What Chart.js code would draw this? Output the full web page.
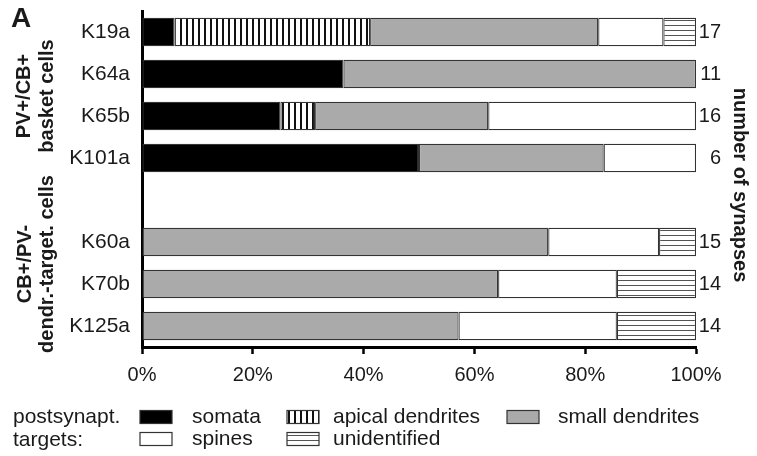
<!DOCTYPE html>
<html>
<head>
<meta charset="utf-8">
<script src="https://cdn.jsdelivr.net/npm/chart.js@4"></script>
<style>
  body { margin: 0; background: #fff; }
  #wrap { width: 757px; height: 456px; position: relative; }
</style>
</head>
<body>
<div id="wrap"><canvas id="chart"></canvas></div>
<script>
// cells (empty entry = gap between the two groups)
const cells = ['K19a', 'K64a', 'K65b', 'K101a', '', 'K60a', 'K70b', 'K125a'];
const totals = [17, 11, 16, 6, null, 15, 14, 14];

// synapse counts per target type
const somata       = [1, 4, 4, 3, null, 0, 0, 0];
const apical       = [6, 0, 1, 0, null, 0, 0, 0];
const smallDend    = [7, 7, 5, 2, null, 11, 9, 8];
const spines       = [2, 0, 6, 1, null, 3, 3, 4];
const unidentified = [1, 0, 0, 0, null, 1, 2, 2];

const xTicks = [0, 20, 40, 60, 80, 100];

const FONT = "'Liberation Sans', Arial, sans-serif";
const GRAY = 'rgb(170, 170, 170)';
const EDGE = '#333';
const INK = '#1a1a1a';

function stripes(vertical, period, lineW, color) {
  const c = document.createElement('canvas');
  c.width = period; c.height = period;
  const g = c.getContext('2d');
  g.fillStyle = '#fff';
  g.fillRect(0, 0, period, period);
  g.fillStyle = color;
  if (vertical) g.fillRect(0, 0, lineW, period);
  else g.fillRect(0, 0, period, lineW);
  return g.createPattern(c, 'repeat');
}

const ctx = document.getElementById('chart').getContext('2d');
const vPattern = stripes(true, 6, 2, '#111');
const hPattern = stripes(false, 5, 1, '#555');

function pct(arr) {
  return arr.map((v, i) => (v == null || v === 0) ? null : v / totals[i] * 100);
}

function ds(label, arr, fill) {
  return {
    label: label,
    data: pct(arr),
    backgroundColor: fill,
    borderColor: EDGE,
    borderWidth: 1.2,
    borderSkipped: false,
    barPercentage: 0.68,
    categoryPercentage: 1
  };
}

const legendRows = [
  [['somata', '#000'], ['apical dendrites', vPattern], ['small dendrites', GRAY]],
  [['spines', '#fff'], ['unidentified', hPattern]]
];

const extras = {
  id: 'extras',
  afterDraw(chart) {
    const c = chart.ctx;
    const area = chart.chartArea;
    const y = chart.scales.y;
    c.save();
    c.fillStyle = INK;
    c.font = 'bold 28px ' + FONT;
    c.textAlign = 'left';
    c.textBaseline = 'alphabetic';
    c.fillText('A', 11, 27);

    // totals on the right
    c.font = '20px ' + FONT;
    c.textAlign = 'right';
    c.textBaseline = 'middle';
    totals.forEach((t, i) => {
      if (t == null) return;
      c.fillText(String(t), 721, y.getPixelForValue(i));
    });

    // rotated titles
    c.font = 'bold 20px ' + FONT;
    c.textAlign = 'center';
    const rot = [
      ['PV+/CB+', 24, 96, -1], ['basket cells', 47, 96, -1],
      ['CB+/PV-', 25, 264, -1], ['dendr.-target. cells', 47, 264, -1],
      ['number of synapses', 740, (area.top + area.bottom) / 2 + 6, 1]
    ];
    rot.forEach(([t, x, yy, dir]) => {
      c.save();
      c.translate(x, yy);
      c.rotate(dir * Math.PI / 2);
      c.fillText(t, 0, 0);
      c.restore();
    });

    // legend
    c.font = '21px ' + FONT;
    c.textAlign = 'left';
    c.fillText('postsynapt.', 13, 417);
    c.fillText('targets:', 13, 440);
    const xs = [140, 287, 507];
    const textOff = [52, 46, 51];
    const ys = [417, 439];
    legendRows.forEach((row, r) => {
      row.forEach(([label, fill], k) => {
        const bx = xs[k], by = ys[r] - 6.5;
        c.fillStyle = fill;
        c.fillRect(bx, by, 32, 13);
        c.strokeStyle = EDGE;
        c.lineWidth = 1.2;
        c.strokeRect(bx, by, 32, 13);
        c.fillStyle = INK;
        c.fillText(label, bx + textOff[k], ys[r]);
      });
    });
    c.restore();
  }
};

new Chart(ctx, {
  type: 'bar',
  data: {
    labels: cells,
    datasets: [
      ds('somata', somata, '#000'),
      ds('apical dendrites', apical, vPattern),
      ds('small dendrites', smallDend, GRAY),
      ds('spines', spines, '#fff'),
      ds('unidentified', unidentified, hPattern)
    ]
  },
  options: {
    indexAxis: 'y',
    responsive: true,
    maintainAspectRatio: false,
    animation: false,
    layout: { padding: { top: 11, bottom: 69, left: 0, right: 61 } },
    plugins: { legend: { display: false }, tooltip: { enabled: false } },
    scales: {
      x: {
        stacked: true,
        min: 0,
        max: 100,
        afterBuildTicks(scale) { scale.ticks = xTicks.map(v => ({ value: v })); },
        afterFit(scale) { scale.height = 40; scale.paddingLeft = 0; scale.paddingRight = 0; },
        grid: { display: true, drawOnChartArea: false, drawTicks: true, tickLength: 7, tickWidth: 2.5, tickColor: '#000' },
        border: { display: true, color: '#000', width: 3 },
        ticks: { color: INK, padding: 9, font: { family: FONT, size: 20 }, callback: v => v + '%' }
      },
      y: {
        stacked: true,
        afterFit(scale) { scale.width = 142; scale.paddingTop = 0; scale.paddingBottom = 0; },
        grid: { display: false },
        border: { display: true, color: '#000', width: 3 },
        ticks: { color: INK, padding: 4, font: { family: FONT, size: 21 } }
      }
    }
  },
  plugins: [extras]
});
</script>
</body>
</html>
